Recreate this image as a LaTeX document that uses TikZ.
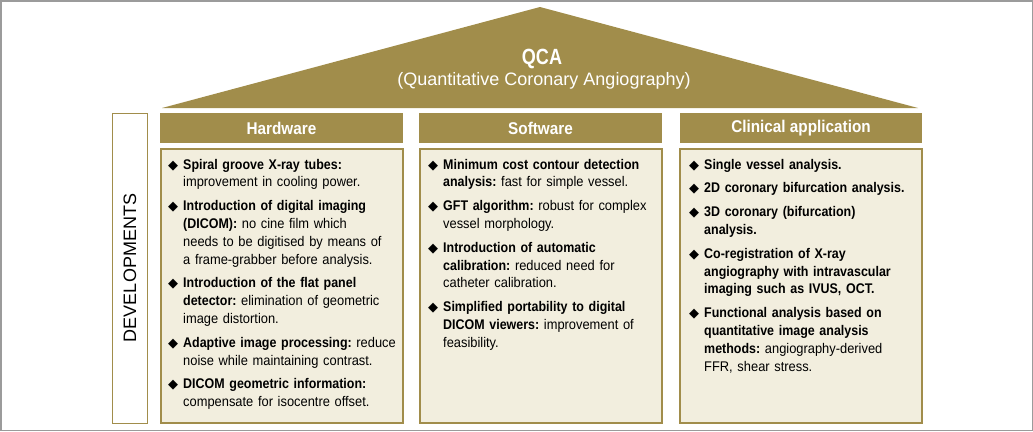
\documentclass[tikz,border=0pt]{standalone}
\usepackage{fontspec}
\setmainfont{Liberation Sans}
\newfontfamily\bodyf{Liberation Sans}[FakeStretch=0.92, BoldFeatures={FakeStretch=0.89}]
\newfontfamily\headf{Liberation Sans}[FakeStretch=0.9]
\newfontfamily\qcaf{Liberation Sans}[FakeStretch=0.82]
\newfontfamily\symf{DejaVu Sans}
\definecolor{gold}{RGB}{161,141,75}
\definecolor{cream}{RGB}{242,238,222}
\definecolor{framegray}{RGB}{155,155,155}
\newcommand{\bul}{{\symf\fontsize{13}{13}\selectfont ◆}}
\newcommand{\bitemlabel}[1]{#1\hfil}
\newenvironment{blist}{\begin{list}{\bul}{%
  \setlength\leftmargin{15pt}\setlength\labelwidth{15pt}\setlength\labelsep{0pt}%
  \setlength\itemsep{6pt}\setlength\parsep{0pt}\setlength\topsep{0pt}%
  \setlength\partopsep{0pt}\setlength\itemindent{0pt}\setlength\rightmargin{0pt}%
  \let\makelabel\bitemlabel}\raggedright\frenchspacing}{\end{list}}
\tikzset{
  header/.style={fill=gold, draw=none},
  contentbox/.style={fill=cream, draw=gold, line width=1.6pt},
  headtext/.style={text=white, font=\headf\bfseries\fontsize{17}{18}\selectfont, inner sep=0pt},
  bodytext/.style={anchor=north west, inner sep=0pt, text width=240pt,
    font=\bodyf\fontsize{14}{17.8}\selectfont},
}
\begin{document}
\begin{tikzpicture}[x=1pt,y=-1pt]
\useasboundingbox (0,0) rectangle (1033,431);
\draw[framegray, line width=1.5pt] (0.75,0.75) rectangle (1032.25,430.25);
% roof
\fill[gold] (162,108) -- (540,7) -- (918,108) -- cycle;
\node[text=white, font=\qcaf\bfseries\fontsize{22}{24}\selectfont, anchor=base, inner sep=0pt] (qca) at (542,64) {QCA};
\node[text=white, font=\fontsize{18}{20}\selectfont, anchor=base, inner sep=0pt] (qcasub) at (544,85) {(Quantitative Coronary Angiography)};
% developments
\draw[gold, line width=1pt, fill=white] (112,113) rectangle (147,423);
\node[rotate=90, font=\fontsize{18}{20}\selectfont, inner sep=0pt] (dev) at (130,268) {DEVELOPMENTS};
% headers
\fill[header] (160,113) rectangle (403,143);
\fill[header] (419,113) rectangle (662,143);
\fill[header] (680,113) rectangle (922,143);
\node[headtext] (hw) at (281.5,128) {Hardware};
\node[headtext] (sw) at (540.5,128) {Software};
\node[headtext] (ca) at (801,128) {Clinical application};
% content boxes
\draw[contentbox] (161,149) rectangle (403,423);
\draw[contentbox] (420,149) rectangle (662,423);
\draw[contentbox] (680,149) rectangle (922,423);
\node[bodytext] (hwtext) at (168,151) {\begin{blist}
\item \textbf{Spiral groove X-ray tubes:}\newline improvement in cooling power.
\item \textbf{Introduction of digital imaging\newline (DICOM):} no cine film which\newline needs to be digitised by means of\newline a frame-grabber before analysis.
\item \textbf{Introduction of the flat panel\newline detector:} elimination of geometric\newline image distortion.
\item \textbf{Adaptive image processing:} reduce\newline noise while maintaining contrast.
\item \textbf{DICOM geometric information:}\newline compensate for isocentre offset.
\end{blist}};
\node[bodytext] (swtext) at (428,151) {\begin{blist}
\item \textbf{Minimum cost contour detection\newline analysis:} fast for simple vessel.
\item \textbf{GFT algorithm:} robust for complex\newline vessel morphology.
\item \textbf{Introduction of automatic\newline calibration:} reduced need for\newline catheter calibration.
\item \textbf{Simplified portability to digital\newline DICOM viewers:} improvement of\newline feasibility.
\end{blist}};
\node[bodytext] (catext) at (689,151) {\begin{blist}
\item \textbf{Single vessel analysis.}
\item \textbf{2D coronary bifurcation analysis.}
\item \textbf{3D coronary (bifurcation)\newline analysis.}
\item \textbf{Co-registration of X-ray\newline angiography with intravascular\newline imaging such as IVUS, OCT.}
\item \textbf{Functional analysis based on\newline quantitative image analysis\newline methods:} angiography-derived\newline FFR, shear stress.
\end{blist}};
\end{tikzpicture}
\end{document}
